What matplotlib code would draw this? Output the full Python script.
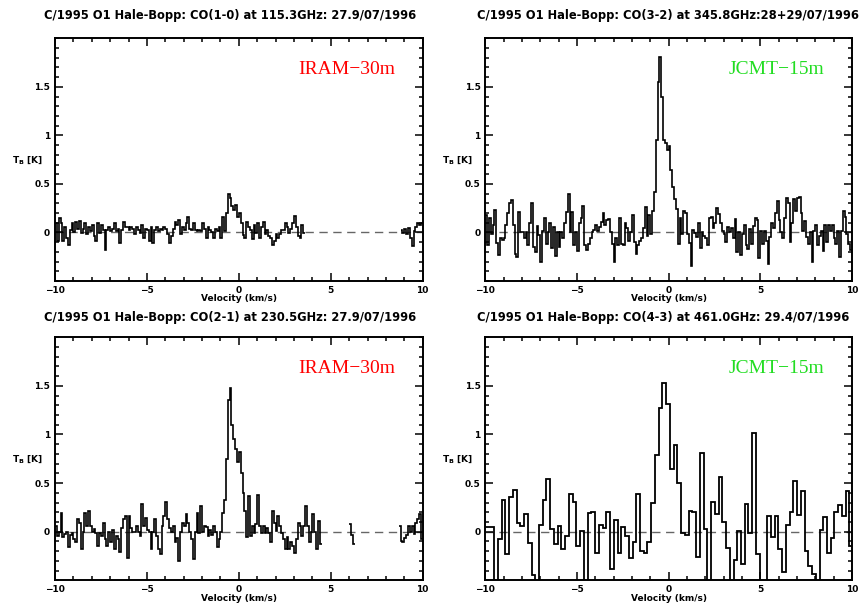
import numpy as np
import matplotlib
matplotlib.use("Agg")
import matplotlib.pyplot as plt
from matplotlib.ticker import MultipleLocator, FixedLocator, FuncFormatter

# --- spectra (T_B in K) -----------------------------------------------------
# CO(1-0), IRAM, 0.1 km/s channels: first block starts at -10.0, second at 8.8
CO10_START = [-10.0, 8.8]
CO10_WIDTH = 0.1
CO10_A = [
    0.10, -0.09, 0.15, 0.10, -0.09, 0.06, -0.06, -0.13, 0.03, 0.10,
    0.00, 0.11, 0.04, 0.12, -0.01, 0.04, 0.10, -0.02, 0.06, 0.01,
    0.08, -0.04, -0.09, 0.10, -0.01, 0.08, 0.03, -0.18, 0.03, 0.06,
    0.01, 0.04, 0.10, 0.01, 0.04, -0.11, 0.03, 0.11, 0.06, 0.06,
    0.03, 0.06, 0.04, -0.02, 0.06, 0.03, -0.01, 0.08, -0.06, 0.04,
    0.03, -0.09, 0.06, -0.11, 0.03, 0.06, 0.01, 0.04, 0.03, 0.06,
    0.04, -0.02, -0.11, -0.04, 0.04, 0.11, 0.08, 0.13, -0.02, 0.06,
    0.03, 0.10, 0.16, 0.04, 0.03, 0.10, 0.03, 0.01, 0.03, 0.01,
    0.10, 0.04, -0.06, 0.06, 0.03, 0.00, -0.06, 0.04, 0.02, 0.06,
    -0.06, 0.16, 0.01, 0.20, 0.40, 0.35, 0.27, 0.23, 0.28, 0.16,
    0.20, 0.10, -0.03, -0.06, 0.11, 0.06, 0.03, -0.07, 0.08, -0.01,
    0.10, -0.06, 0.06, 0.11, -0.02, 0.03, -0.04, -0.06, -0.13, -0.09,
    -0.02, -0.06, -0.02, 0.03, 0.03, 0.10, 0.06, -0.01, 0.04, 0.10,
    0.17, 0.06, -0.04, -0.06, 0.08, -0.01,
]
CO10_B = [0.03, -0.01, 0.04, -0.02, 0.05, -0.06, -0.14, 0.01, 0.06, 0.10, 0.08, 0.10]

# CO(3-2), JCMT, 0.1 km/s channels from -10.0
CO32_START = -10.0
CO32_WIDTH = 0.1
CO32 = [
    0.18, -0.13, 0.15, -0.02, 0.08, 0.23, -0.11, -0.23, -0.06, -0.08,
    -0.06, 0.08, 0.20, 0.30, 0.33, 0.08, -0.22, -0.25, 0.21, 0.00,
    0.00, -0.06, 0.00, -0.13, 0.10, 0.30, -0.15, -0.20, 0.07, -0.03,
    -0.30, 0.01, 0.15, -0.12, 0.00, 0.10, -0.16, 0.06, -0.24, 0.00,
    -0.15, 0.00, -0.06, 0.10, 0.21, 0.40, 0.00, 0.21, -0.13, 0.00,
    -0.19, 0.10, 0.15, 0.27, -0.13, -0.18, -0.12, -0.06, 0.00, 0.03,
    0.08, 0.01, 0.06, 0.11, 0.20, 0.08, 0.13, 0.14, 0.00, -0.12,
    -0.30, -0.06, -0.13, 0.15, -0.12, -0.13, 0.10, 0.05, -0.09, 0.00,
    0.18, -0.10, -0.22, -0.13, -0.09, -0.06, 0.05, 0.26, -0.04, 0.18,
    -0.02, 0.22, 0.42, 0.95, 1.55, 1.81, 1.40, 0.95, 0.92, 0.85,
    0.89, 0.64, 0.47, 0.34, 0.24, -0.12, 0.15, -0.02, 0.22, 0.20,
    -0.02, -0.11, -0.35, 0.03, -0.01, -0.05, 0.10, -0.16, 0.00, -0.04,
    -0.06, -0.13, 0.15, 0.16, 0.05, 0.10, 0.25, 0.19, 0.10, 0.01,
    -0.02, -0.10, 0.06, 0.00, 0.05, -0.06, 0.14, -0.20, 0.00, -0.23,
    -0.02, 0.08, -0.13, -0.17, 0.04, -0.12, 0.07, 0.15, 0.13, -0.26,
    0.01, -0.12, 0.01, -0.09, -0.33, -0.05, 0.10, 0.05, 0.20, 0.32,
    0.13, 0.00, -0.06, 0.15, 0.36, 0.30, -0.10, 0.10, 0.34, 0.22,
    0.35, 0.37, 0.20, 0.02, 0.12, -0.05, -0.12, 0.00, -0.30, 0.01,
    0.08, -0.13, -0.04, 0.01, -0.19, 0.08, -0.10, 0.08, 0.02, 0.08,
    -0.06, -0.12, 0.01, -0.25, 0.02, 0.22, 0.16, -0.02, -0.12, -0.18,
]

# CO(2-1), IRAM, 0.1 km/s channels in three blocks
CO21_START = [-10.0, 6.0, 8.7]
CO21_WIDTH = 0.1
CO21_A = [
    0.06, -0.04, 0.00, 0.19, -0.05, -0.02, 0.00, -0.16, -0.03, -0.01,
    -0.08, -0.11, 0.13, 0.09, -0.18, 0.00, 0.19, 0.06, 0.21, 0.06,
    0.00, 0.03, -0.01, -0.15, -0.01, -0.04, 0.09, -0.08, -0.15, 0.00,
    -0.11, 0.02, -0.18, -0.04, -0.08, -0.21, 0.04, 0.13, 0.16, -0.27,
    0.16, 0.04, 0.00, 0.00, 0.06, 0.00, -0.04, 0.28, 0.06, 0.14,
    0.02, 0.00, -0.18, 0.00, 0.13, -0.04, -0.18, -0.23, 0.06, 0.16,
    0.31, 0.13, 0.04, 0.00, 0.06, -0.11, -0.06, -0.30, 0.00, 0.09,
    0.06, 0.18, 0.09, 0.00, -0.08, -0.28, 0.00, 0.19, -0.01, 0.26,
    0.00, 0.06, 0.05, -0.04, 0.02, -0.03, 0.06, 0.00, -0.16, -0.08,
    0.00, 0.19, 0.33, 0.75, 1.35, 1.48, 1.10, 0.95, 0.85, 0.72,
    0.82, 0.60, 0.40, 0.21, -0.05, 0.37, -0.04, 0.06, -0.01, 0.08,
    0.38, 0.06, -0.01, 0.06, -0.01, 0.04, -0.01, -0.11, 0.21, 0.09,
    0.01, 0.16, 0.06, -0.01, -0.08, -0.18, -0.05, -0.18, -0.11, -0.15,
    -0.22, -0.08, 0.09, 0.06, -0.04, 0.06, 0.26, 0.06, -0.11, 0.00,
    0.18, 0.00, -0.18, 0.11, -0.13,
]
CO21_B = [0.08, -0.03, -0.13]
CO21_C = [0.06, -0.10, -0.11, -0.06, -0.03, 0.06, 0.00, 0.06, -0.02, 0.09, 0.13, 0.18, -0.08]

# CO(4-3), JCMT, 0.204 km/s channels; -0.9 marks channels below the plot floor
CO43_START = -10.131
CO43_WIDTH = 0.204
CO43 = [
    0.05, 0.05, 0.05, -0.9, -0.07, 0.33, -0.23, 0.36, 0.43, 0.09,
    0.06, 0.18, -0.12, -0.45, -0.9, 0.065, 0.33, 0.54, 0.03, -0.13,
    0.06, -0.18, -0.04, 0.39, 0.31, -0.15, 0.01, -0.9, 0.19, 0.20,
    -0.22, 0.07, 0.04, 0.20, -0.38, 0.12, -0.22, 0.05, -0.045, -0.27,
    -0.11, 0.39, -0.20, -0.22, -0.11, 0.30, 0.79, 1.27, 1.53, 1.31,
    0.65, 0.89, 0.50, -0.01, -0.03, 0.21, 0.20, -0.26, 0.81, 0.03,
    -0.9, 0.31, 0.18, 0.56, 0.10, -0.17, -0.9, -0.29, 0.01, -0.33,
    0.28, -0.01, 1.02, -0.23, -0.9, -0.9, 0.16, -0.05, 0.16, -0.18,
    -0.41, 0.07, 0.20, 0.52, 0.17, 0.42, -0.20, -0.35, -0.44, -0.9,
    0.02, 0.15, -0.22, -0.06, 0.20, 0.27, 0.16, 0.42, -0.15,
]

TITLES = [
    "C/1995 O1 Hale-Bopp: CO(1-0) at 115.3GHz: 27.9/07/1996",
    "C/1995 O1 Hale-Bopp: CO(3-2) at 345.8GHz:28+29/07/1996",
    "C/1995 O1 Hale-Bopp: CO(2-1) at 230.5GHz: 27.9/07/1996",
    "C/1995 O1 Hale-Bopp: CO(4-3) at 461.0GHz: 29.4/07/1996",
]
TELESCOPES = ["IRAM\u221230m", "JCMT\u221215m", "IRAM\u221230m", "JCMT\u221215m"]
TEL_COLORS = ["#ff0000", "#22dd22", "#ff0000", "#22dd22"]

SPECTRA = [
    [(CO10_START[0], CO10_WIDTH, CO10_A), (CO10_START[1], CO10_WIDTH, CO10_B)],
    [(CO32_START, CO32_WIDTH, CO32)],
    [(CO21_START[0], CO21_WIDTH, CO21_A), (CO21_START[1], CO21_WIDTH, CO21_B),
     (CO21_START[2], CO21_WIDTH, CO21_C)],
    [(CO43_START, CO43_WIDTH, CO43)],
]
LINE_WIDTHS = [1.2, 1.2, 1.2, 1.3]

plt.rcParams["font.family"] = "DejaVu Sans"
plt.rcParams["font.weight"] = "bold"

W, H = 864, 606
fig = plt.figure(figsize=(W / 100, H / 100), dpi=100)

# axes boxes in pixels: left, top, right, bottom
BOXES = [(55, 38.3, 422.7, 281), (485.3, 38.3, 852, 281),
         (55, 337.3, 422.7, 580.3), (485.3, 337.3, 852, 580.3)]
TITLE_POS = [(44, 15), (477, 15), (44, 318), (477, 318)]


def fmt(v, pos):
    return ("%g" % v).replace("-", "\u2212")


for k in range(4):
    l, t, r, b = BOXES[k]
    ax = fig.add_axes([l / W, 1 - b / H, (r - l) / W, (b - t) / H])
    ax.axhline(0, color="#666666", lw=1.0, dashes=(6, 4), zorder=1)
    for start, width, vals in SPECTRA[k]:
        edges = start + width * np.arange(len(vals) + 1)
        ax.stairs(vals, edges, baseline=None, color="black",
                  lw=LINE_WIDTHS[k], zorder=2)

    ax.set_xlim(-10, 10)
    ax.set_ylim(-0.5, 2.0)
    ax.xaxis.set_major_locator(MultipleLocator(5))
    ax.xaxis.set_minor_locator(MultipleLocator(1))
    ax.yaxis.set_major_locator(FixedLocator([0, 0.5, 1, 1.5]))
    ax.yaxis.set_minor_locator(MultipleLocator(0.1))
    ax.xaxis.set_major_formatter(FuncFormatter(fmt))
    ax.yaxis.set_major_formatter(FuncFormatter(fmt))
    ax.tick_params(which="both", direction="in", top=True, right=True,
                   width=1.1, labelsize=6.5, pad=3.5)
    ax.tick_params(which="major", length=5.8)
    ax.tick_params(which="minor", length=2.9)
    for sp in ax.spines.values():
        sp.set_linewidth(1.4)

    ax.text(0.5, -0.074, "Velocity (km/s)", transform=ax.transAxes,
            ha="center", va="center", fontsize=6.5)
    ax.text(-0.117, 0.5, r"$\mathbf{T_B}$ [K]", transform=ax.transAxes,
            ha="left", va="center", fontsize=6.5)
    ax.text(8.5, 1.68, TELESCOPES[k], color=TEL_COLORS[k], ha="right",
            va="center", fontsize=14, fontweight="normal",
            family="Liberation Serif")

    tx, ty = TITLE_POS[k]
    fig.text(tx / W, 1 - ty / H, TITLES[k], ha="left", va="center",
             fontsize=8.3)

fig.savefig("out.png", dpi=100)
print("Saved out.png")
